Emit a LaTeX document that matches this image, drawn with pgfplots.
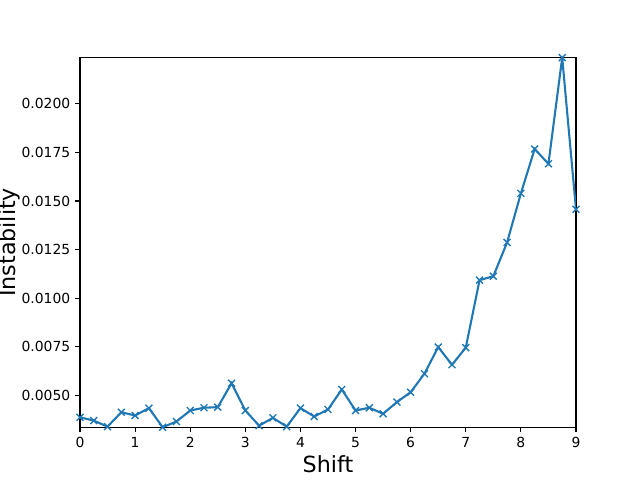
\documentclass[border=0pt]{standalone}
\usepackage{pgfplots}
\pgfplotsset{compat=1.18}
\usepackage{fontspec}
\setmainfont{DejaVu Sans}
\definecolor{mplblue}{HTML}{1F77B4}
\begin{document}
\begin{tikzpicture}
\path[use as bounding box] (0,0) rectangle (460.8pt,345.6pt);
\begin{axis}[
  at={(57.6pt,38.016pt)}, anchor=south west,
  scale only axis, width=357.12pt, height=266.112pt,
  xmin=0, xmax=9, ymin=0.00337, ymax=0.02237,
  xtick={0,1,...,9},
  ytick={0.005,0.0075,0.01,0.0125,0.015,0.0175,0.02},
  scaled y ticks=false,
  yticklabel style={/pgf/number format/fixed,/pgf/number format/fixed zerofill,/pgf/number format/precision=4},
  /pgf/number format/assume math mode=true,
  tick align=outside, major tick length=3.5pt,
  tick style={black, line width=0.8pt},
  axis line style={line width=0.8pt},
  xtick pos=bottom, ytick pos=left,
  ticklabel style={font=\fontsize{10}{12}\selectfont},
  xlabel={Shift}, ylabel={Instability},
  label style={font=\fontsize{16}{19}\selectfont},
  xlabel style={yshift=1pt},
  ylabel style={yshift=-6pt},
]
\addplot[color=mplblue, line width=1.5pt, mark=x, mark size=3.5pt, mark options={line width=1pt}] coordinates {
(0,0.00388) (0.25,0.00371) (0.5,0.00340) (0.75,0.00414) (1,0.00397) (1.25,0.00435)
(1.5,0.00337) (1.75,0.00366) (2,0.00423) (2.25,0.00437) (2.5,0.00440) (2.75,0.00563)
(3,0.00423) (3.25,0.00345) (3.5,0.00385) (3.75,0.00340) (4,0.00435) (4.25,0.00392)
(4.5,0.00428) (4.75,0.00531) (5,0.00423) (5.25,0.00437) (5.5,0.00406) (5.75,0.00466)
(6,0.00517) (6.25,0.00612) (6.5,0.00749) (6.75,0.00658) (7,0.00746) (7.25,0.01093)
(7.5,0.01113) (7.75,0.01287) (8,0.01539) (8.25,0.01767) (8.5,0.01691) (8.75,0.02237)
(9,0.01457)
};
\end{axis}
\end{tikzpicture}
\end{document}
